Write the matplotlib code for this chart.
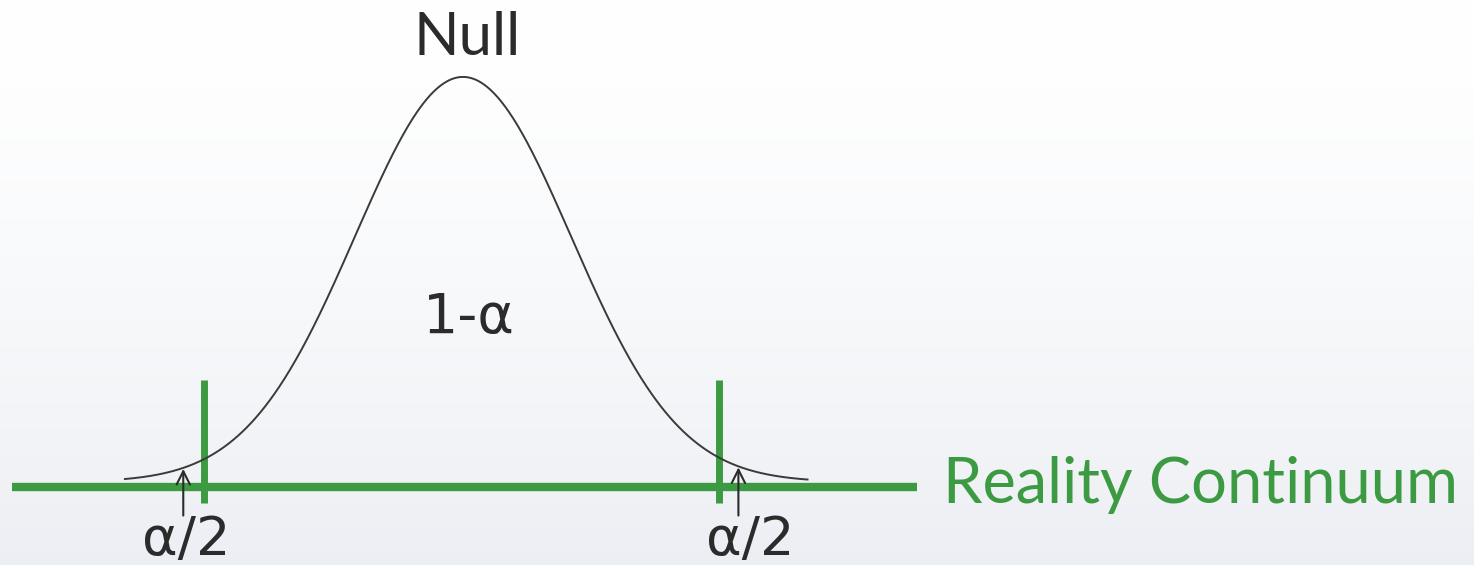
import numpy as np
import matplotlib
matplotlib.use("Agg")
import matplotlib.pyplot as plt

# null distribution, in z units
null_mean = 0.0
null_sd = 1.0
curve_range = [-3.13, 3.19]
crit_z = [-2.40, 2.37]
tail_arrow_z = [-2.59, 2.55]
tail_labels = ["α/2", "α/2"]
tail_label_z = [-2.56, 2.66]
centre_label = "1-α"
null_label = "Null"
axis_label = "Reality Continuum"
continuum_range = [-4.18, 4.20]

green = "#3c9b42"
ink = "#2b2b2b"
plt.rcParams['font.family'] = ['Lato', 'DejaVu Sans']
greek = ['DejaVu Sans']

fig = plt.figure(figsize=(14.74, 5.65), dpi=100)
ax = fig.add_axes([0, 0, 1, 1])
ax.axis("off")

# soft background: white at the top fading to a pale grey-blue
grad = np.linspace(0, 1, 256) ** 1.5
bg = np.ones((256, 1, 3))
bg[:, 0, 0] = 1 - grad * 0.075
bg[:, 0, 1] = 1 - grad * 0.065
bg[:, 0, 2] = 1 - grad * 0.045
ax.imshow(bg, extent=[-4.287, 9.361, -0.0817, 0.4747], origin="upper",
          aspect="auto", zorder=0)
ax.set_xlim(-4.287, 9.361)
ax.set_ylim(-0.0817, 0.4747)

z = np.linspace(curve_range[0], curve_range[1], 600)
pdf = np.exp(-0.5 * ((z - null_mean) / null_sd) ** 2) / (null_sd * np.sqrt(2 * np.pi))
ax.plot(z, pdf, color="#3a3a3a", lw=1.4, zorder=3)

# the continuum and the two critical values
ax.plot(continuum_range, [-0.005, -0.005], color=green, lw=6, solid_capstyle="butt", zorder=2)
for c in crit_z:
    ax.plot([c, c], [-0.0207, 0.1005], color=green, lw=5, solid_capstyle="butt", zorder=2)

# arrows pointing at the rejection tails
for xa in tail_arrow_z:
    tip = np.exp(-0.5 * xa ** 2) / np.sqrt(2 * np.pi)
    ax.annotate("", xy=(xa, tip - 0.001), xytext=(xa, -0.033),
                arrowprops=dict(arrowstyle="->", color=ink, lw=1.5,
                                shrinkA=0, shrinkB=0, mutation_scale=24), zorder=4)

for xl, lab in zip(tail_label_z, tail_labels):
    ax.text(xl, -0.0575, lab, ha="center", va="center", fontsize=39,
            color=ink, family=greek)

ax.text(0.04, 0.437, null_label, ha="center", va="center", fontsize=43, color=ink)
ax.text(0.05, 0.162, centre_label, ha="center", va="center", fontsize=40,
        color=ink, family=greek)
ax.text(4.44, -0.0207, axis_label, ha="left", va="baseline", fontsize=45.5, color=green)

fig.savefig("out.png", dpi=100)
